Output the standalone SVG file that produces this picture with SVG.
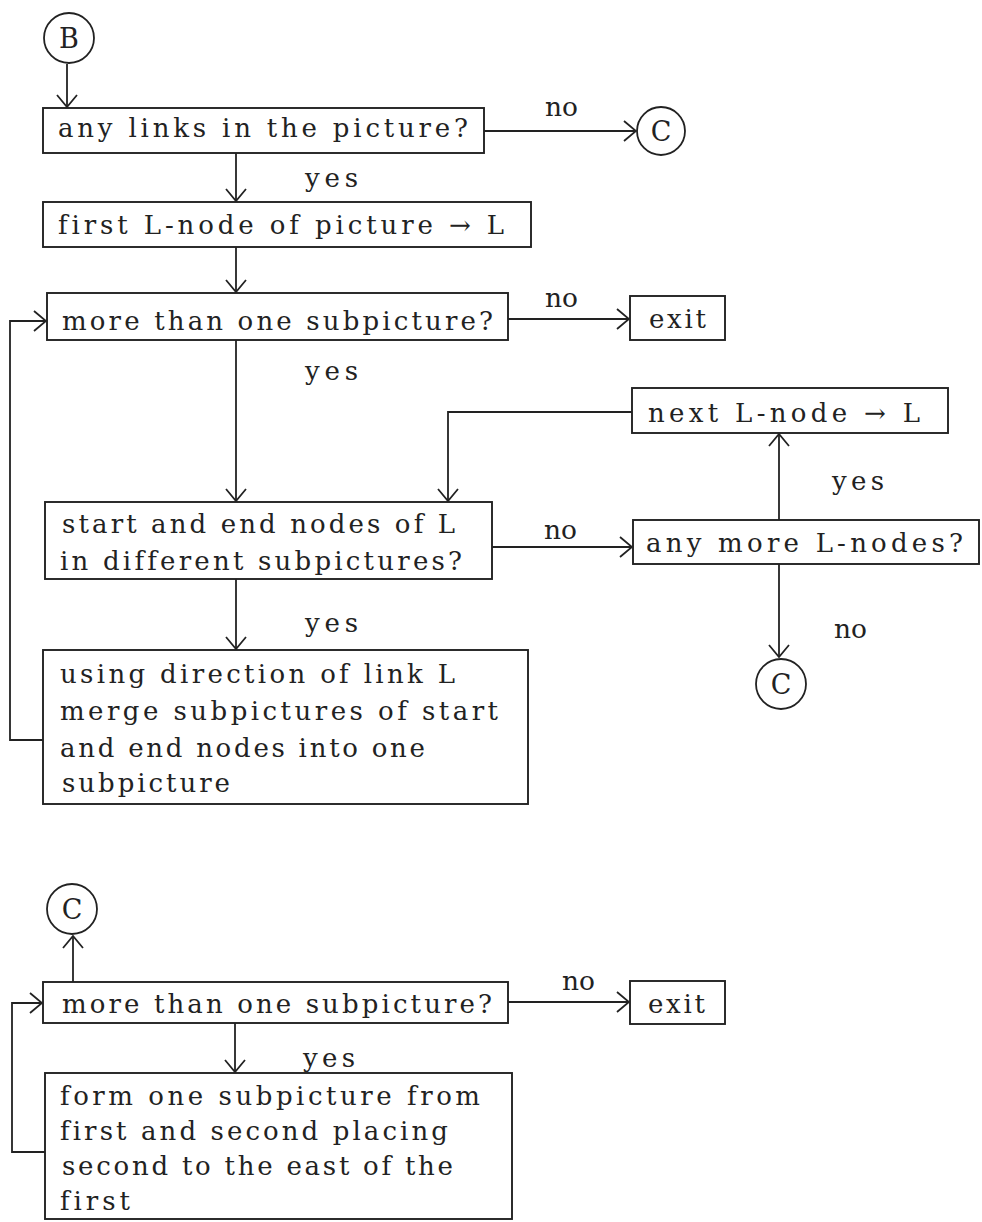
<svg xmlns="http://www.w3.org/2000/svg" width="982" height="1222" viewBox="0 0 982 1222">
<defs>
<marker id="arr" viewBox="0 0 14 22" refX="13" refY="11" markerWidth="14" markerHeight="22" markerUnits="userSpaceOnUse" orient="auto">
<path d="M1,1 L13,11 L1,21" fill="none" stroke="#222" stroke-width="1.8"/>
</marker>
<style>
.box{fill:#fff;stroke:#222;stroke-width:1.9}
.circ{fill:#fff;stroke:#222;stroke-width:1.8}
.t{font-family:"DejaVu Serif","Liberation Serif",serif;font-size:26px;fill:#222;font-variant-ligatures:none}
.lbl{font-family:"DejaVu Serif","Liberation Serif",serif;font-size:26px;fill:#222}
.cl{font-family:"DejaVu Serif","Liberation Serif",serif;font-size:27px;fill:#222;text-anchor:middle}
.c{fill:none;stroke:#222;stroke-width:1.8}
</style>
</defs>
<rect width="982" height="1222" fill="#fff"/>
<g id="connectors">
<path class="c" d="M67,64 L67,107" marker-end="url(#arr)"/>
<path class="c" d="M484,131 L636,131" marker-end="url(#arr)"/>
<path class="c" d="M236,153 L236,201" marker-end="url(#arr)"/>
<path class="c" d="M236,247 L236,292" marker-end="url(#arr)"/>
<path class="c" d="M508,319 L629,319" marker-end="url(#arr)"/>
<path class="c" d="M236,340 L236,501" marker-end="url(#arr)"/>
<path class="c" d="M632,412 L448,412 L448,501" marker-end="url(#arr)"/>
<path class="c" d="M492,547 L632,547" marker-end="url(#arr)"/>
<path class="c" d="M779,520 L779,434" marker-end="url(#arr)"/>
<path class="c" d="M779,564 L779,657" marker-end="url(#arr)"/>
<path class="c" d="M236,579 L236,649" marker-end="url(#arr)"/>
<path class="c" d="M43,740 L10,740 L10,321 L46,321" marker-end="url(#arr)"/>
<path class="c" d="M73,982 L73,936" marker-end="url(#arr)"/>
<path class="c" d="M508,1002 L629,1002" marker-end="url(#arr)"/>
<path class="c" d="M235,1023 L235,1072" marker-end="url(#arr)"/>
<path class="c" d="M45,1152 L12,1152 L12,1003 L42,1003" marker-end="url(#arr)"/>
<text class="lbl" x="545" y="116" textLength="33" lengthAdjust="spacingAndGlyphs">no</text>
<text class="lbl" x="305" y="187" textLength="53" lengthAdjust="spacing">yes</text>
<text class="lbl" x="545" y="307" textLength="33" lengthAdjust="spacingAndGlyphs">no</text>
<text class="lbl" x="305" y="380" textLength="53" lengthAdjust="spacing">yes</text>
<text class="lbl" x="832" y="490" textLength="52" lengthAdjust="spacing">yes</text>
<text class="lbl" x="544" y="539" textLength="33" lengthAdjust="spacingAndGlyphs">no</text>
<text class="lbl" x="834" y="638" textLength="33" lengthAdjust="spacingAndGlyphs">no</text>
<text class="lbl" x="305" y="632" textLength="53" lengthAdjust="spacing">yes</text>
<text class="lbl" x="562" y="990" textLength="33" lengthAdjust="spacingAndGlyphs">no</text>
<text class="lbl" x="303" y="1067" textLength="52" lengthAdjust="spacing">yes</text>
</g>
<g id="nodeB">
<circle class="circ" cx="69" cy="38" r="25"/>
<text class="cl" x="69" y="48">B</text>
</g>
<g id="nodeC1">
<circle class="circ" cx="661" cy="131" r="24"/>
<text class="cl" x="661" y="141">C</text>
</g>
<g id="box1">
<rect class="box" x="43" y="108" width="441" height="45"/>
<text class="t" x="58" y="137" textLength="410" lengthAdjust="spacing">any links in the picture?</text>
</g>
<g id="box2">
<rect class="box" x="43" y="202" width="488" height="45"/>
<text class="t" x="58" y="234" textLength="446" lengthAdjust="spacing">first L-node of picture → L</text>
</g>
<g id="box3">
<rect class="box" x="47" y="293" width="461" height="47"/>
<text class="t" x="62" y="330" textLength="431" lengthAdjust="spacing">more than one subpicture?</text>
</g>
<g id="exit1">
<rect class="box" x="630" y="296" width="95" height="44"/>
<text class="t" x="649" y="328" textLength="57" lengthAdjust="spacing">exit</text>
</g>
<g id="nextL">
<rect class="box" x="632" y="388" width="316" height="45"/>
<text class="t" x="648" y="422" textLength="272" lengthAdjust="spacing">next L-node → L</text>
</g>
<g id="box6">
<rect class="box" x="45" y="502" width="447" height="77"/>
<text class="t" x="62" y="533" textLength="393" lengthAdjust="spacing">start and end nodes of L</text>
<text class="t" x="60" y="570" textLength="402" lengthAdjust="spacing">in different subpictures?</text>
</g>
<g id="anyMore">
<rect class="box" x="633" y="520" width="346" height="44"/>
<text class="t" x="646" y="552" textLength="317" lengthAdjust="spacing">any more L-nodes?</text>
</g>
<g id="nodeC2">
<circle class="circ" cx="781" cy="684" r="25"/>
<text class="cl" x="781" y="694">C</text>
</g>
<g id="box8">
<rect class="box" x="43" y="650" width="485" height="154"/>
<text class="t" x="60" y="683" textLength="395" lengthAdjust="spacing">using direction of link L</text>
<text class="t" x="60" y="720" textLength="438" lengthAdjust="spacing">merge subpictures of start</text>
<text class="t" x="60" y="757" textLength="365" lengthAdjust="spacing">and end nodes into one</text>
<text class="t" x="62" y="792" textLength="168" lengthAdjust="spacing">subpicture</text>
</g>
<g id="nodeC3">
<circle class="circ" cx="72" cy="909" r="25"/>
<text class="cl" x="72" y="919">C</text>
</g>
<g id="box9">
<rect class="box" x="43" y="982" width="465" height="41"/>
<text class="t" x="62" y="1013" textLength="430" lengthAdjust="spacing">more than one subpicture?</text>
</g>
<g id="exit2">
<rect class="box" x="630" y="981" width="95" height="43"/>
<text class="t" x="648" y="1013" textLength="57" lengthAdjust="spacing">exit</text>
</g>
<g id="box11">
<rect class="box" x="45" y="1073" width="467" height="146"/>
<text class="t" x="60" y="1105" textLength="420" lengthAdjust="spacing">form one subpicture from</text>
<text class="t" x="60" y="1140" textLength="388" lengthAdjust="spacing">first and second placing</text>
<text class="t" x="62" y="1175" textLength="391" lengthAdjust="spacing">second to the east of the</text>
<text class="t" x="60" y="1210" textLength="70" lengthAdjust="spacing">first</text>
</g>
</svg>
